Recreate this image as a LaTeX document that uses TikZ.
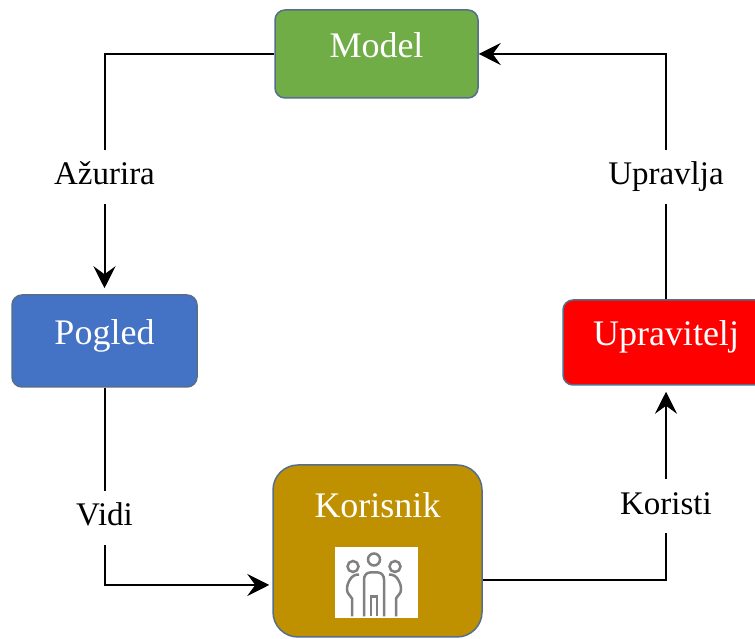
\documentclass[tikz,border=0pt]{standalone}
\usepackage{fontspec}
\setmainfont{Liberation Serif}
\usetikzlibrary{arrows.meta}
\definecolor{zelena}{HTML}{70AD47}
\definecolor{plava}{HTML}{4472C4}
\definecolor{crvena}{HTML}{FF0000}
\definecolor{zlatna}{HTML}{BF9000}
\definecolor{rub}{RGB}{84,110,140}
\definecolor{ikona}{RGB}{128,128,128}
\tikzset{
  blok/.style={draw=rub,line width=1.5pt,rounded corners=10pt,text=white,
    font=\fontsize{36}{40}\selectfont,text height=25pt,text depth=18pt},
  oznaka/.style={fill=white,font=\fontsize{33}{36}\selectfont,inner xsep=3pt,
    inner ysep=12pt,text height=23pt,text depth=7pt},
  veza/.style={line width=2pt,-{Stealth[length=22pt,width=22pt,inset=8pt]}}
}
\begin{document}
\begin{tikzpicture}[x=1pt,y=1pt]
        \useasboundingbox (0,0) rectangle (755,639);
        \clip (0,0) rectangle (755,639);

        \node[blok,fill=zelena,minimum width=203pt,minimum height=88pt](model)at(376.5,585){Model};
        \node[blok,fill=plava,minimum width=185pt,minimum height=92pt](pogled)at(104.5,298){Pogled};
        \node[blok,fill=crvena,minimum width=206pt,minimum height=85pt](upravitelj)at(666,296.5){Upravitelj};
        \node[blok,fill=zlatna,rounded corners=25pt,minimum width=209pt,minimum height=172pt,text depth=91pt](korisnik)at(377.5,88){Korisnik};

        % ikona korisnika
        \fill[white](335,21)rectangle(418,92);
        \begin{scope}[shift={(374,56.5)},draw=ikona,line width=2.5pt]
          \draw (0,23) circle (6);
          \draw (-21,16) circle (5.5);
          \draw (21,16) circle (5.5);
          \draw (-10,-34) -- (-10,3) to[out=90,in=180] (-4,10) -- (4,10) to[out=0,in=90] (10,3) -- (10,-34);
          \draw (-3,-34) -- (-3,-14) -- (3,-14) -- (3,-34);
          \draw (-15,8) to[out=180,in=60] (-24,3) to[out=240,in=90] (-27,-7) to[out=270,in=120] (-22,-16) -- (-22,-34);
          \draw (15,8) to[out=0,in=120] (24,3) to[out=300,in=90] (27,-7) to[out=270,in=60] (22,-16) -- (22,-34);
        \end{scope}

        \draw[veza,shorten >=6pt](model.west) -| node[oznaka,pos=0.755]{Ažurira} (pogled.north);
        \draw[veza,shorten >=3pt](pogled.south) |- node[oznaka,pos=0.33]{Vidi} ([yshift=-34pt]korisnik.west);
        \draw[veza,shorten >=6pt]([yshift=-29pt]korisnik.east) -| node[oznaka,pos=0.69]{Koristi} (upravitelj.south);
        \draw[veza](upravitelj.north) |- node[oznaka,pos=0.25]{Upravlja} (model.east);
    \end{tikzpicture}
\end{document}
